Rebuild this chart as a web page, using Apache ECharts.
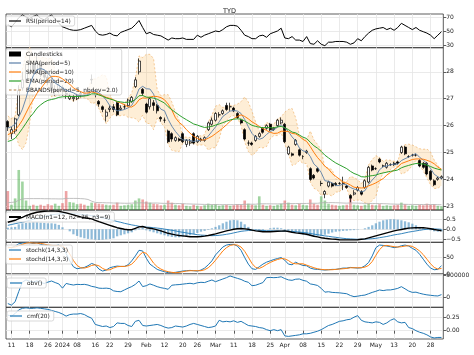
<!DOCTYPE html>
<html><head><meta charset="utf-8">
<script src="https://cdn.jsdelivr.net/npm/echarts/dist/echarts.min.js"></script>
<style>html,body{margin:0;padding:0;background:#fff}#c{width:474px;height:355px}</style>
</head><body><div id="c"></div>
<script>
const dates = ['2023-12-08','2023-12-11','2023-12-12','2023-12-13','2023-12-14','2023-12-15','2023-12-18','2023-12-19','2023-12-20','2023-12-21','2023-12-22','2023-12-26','2023-12-27','2023-12-28','2023-12-29',
'2024-01-02','2024-01-03','2024-01-04','2024-01-05','2024-01-08','2024-01-09','2024-01-10','2024-01-11','2024-01-12','2024-01-16','2024-01-17','2024-01-18','2024-01-19','2024-01-22','2024-01-23','2024-01-24','2024-01-25','2024-01-26','2024-01-29','2024-01-30','2024-01-31',
'2024-02-01','2024-02-02','2024-02-05','2024-02-06','2024-02-07','2024-02-08','2024-02-09','2024-02-12','2024-02-13','2024-02-14','2024-02-15','2024-02-16','2024-02-20','2024-02-21','2024-02-22','2024-02-23','2024-02-26','2024-02-27','2024-02-28','2024-02-29',
'2024-03-01','2024-03-04','2024-03-05','2024-03-06','2024-03-07','2024-03-08','2024-03-11','2024-03-12','2024-03-13','2024-03-14','2024-03-15','2024-03-18','2024-03-19','2024-03-20','2024-03-21','2024-03-22','2024-03-25','2024-03-26','2024-03-27','2024-03-28',
'2024-04-01','2024-04-02','2024-04-03','2024-04-04','2024-04-05','2024-04-08','2024-04-09','2024-04-10','2024-04-11','2024-04-12','2024-04-15','2024-04-16','2024-04-17','2024-04-18','2024-04-19','2024-04-22','2024-04-23','2024-04-24','2024-04-25','2024-04-26','2024-04-29','2024-04-30',
'2024-05-01','2024-05-02','2024-05-03','2024-05-06','2024-05-07','2024-05-08','2024-05-09','2024-05-10','2024-05-13','2024-05-14','2024-05-15','2024-05-16','2024-05-17','2024-05-20','2024-05-21','2024-05-22','2024-05-23','2024-05-24','2024-05-28','2024-05-29','2024-05-30','2024-05-31'];

const tickDates = ['2023-12-11','2023-12-18','2023-12-26','2024-01-02','2024-01-08','2024-01-16','2024-01-22','2024-01-29','2024-02-05','2024-02-12','2024-02-20','2024-02-26','2024-03-04','2024-03-11','2024-03-18','2024-03-25','2024-04-01','2024-04-08','2024-04-15','2024-04-22','2024-04-29','2024-05-06','2024-05-13','2024-05-20','2024-05-28'];
const tickText = ['11','18','26','2024','08','16','22','29','Feb','12','20','26','Mar','11','18','25','Apr','08','15','22','29','May','13','20','28'];

const open = [26.15,25.7,25.8,26.4,27.4,27.7,28.0,28.3,28.0,28.3,
27.9,27.8,27.6,27.3,27.3,27.4,27.2,27.0,27.0,27.0,
27.2,27.2,27.2,27.7,27.25,26.9,26.7,26.35,26.6,26.7,
26.85,26.6,26.7,26.75,26.9,27.45,28.0,27.35,26.8,26.7,
26.85,26.75,26.3,26.2,25.8,25.7,25.45,25.5,25.7,25.3,
25.35,25.7,25.4,25.5,25.45,25.85,26.05,26.2,26.4,26.45,
26.75,26.7,26.65,26.45,26.2,25.85,25.35,25.35,25.45,25.6,
25.9,25.9,26.05,25.85,26.0,26.1,26.05,24.95,24.95,25.3,
25.1,24.85,25.0,24.4,24.15,24.4,23.85,23.45,23.75,23.85,
23.85,23.85,23.85,23.75,23.4,23.45,23.6,23.55,23.7,23.9,
24.5,24.4,24.75,24.5,24.45,24.55,24.6,24.65,25.0,25.2,
24.85,24.9,24.9,24.7,24.6,24.6,24.3,23.95,24.0,24.05];
const close = [25.95,25.85,26.25,27.3,27.7,28.0,28.3,28.0,28.4,27.9,
27.8,27.6,27.3,27.3,27.5,27.3,27.15,27.1,27.05,27.1,
27.15,27.15,27.3,27.72,27.15,26.8,26.6,26.5,26.65,26.6,
26.4,26.65,26.7,26.95,27.05,27.7,28.4,27.2,26.5,27.0,
26.75,26.55,26.25,26.2,25.4,25.5,25.55,25.45,25.4,25.45,
25.4,25.35,25.6,25.45,25.55,26.1,26.2,26.45,26.4,26.55,
26.6,26.7,26.55,26.3,26.1,25.5,25.35,25.3,25.6,25.7,
25.75,26.0,25.85,25.9,26.2,26.2,25.4,25.2,24.9,25.45,
24.9,24.85,25.05,24.0,24.05,24.3,23.85,23.55,23.9,23.75,
23.8,23.85,23.85,23.7,23.3,23.5,23.7,23.45,23.95,24.45,
24.35,24.4,24.65,24.5,24.6,24.55,24.55,24.6,25.2,24.95,
24.85,24.9,24.9,24.5,24.45,24.2,24.0,23.8,24.05,24.1];
const high = [26.2,25.95,26.3,27.5,28.0,28.3,28.6,28.4,28.6,28.4,
28.1,27.9,27.7,27.5,27.6,27.5,27.3,27.2,27.15,27.2,
27.25,27.3,27.4,27.9,27.35,26.95,26.75,26.6,26.75,26.8,
26.9,26.75,26.8,27.0,27.1,27.8,28.5,27.4,26.85,27.05,
26.95,26.8,26.35,26.3,25.85,25.75,25.6,25.55,25.75,25.5,
25.5,25.75,25.65,25.55,25.6,26.15,26.3,26.5,26.5,26.6,
26.85,26.85,26.7,26.5,26.25,25.9,25.45,25.4,25.65,25.75,
25.95,26.05,26.1,25.95,26.25,26.3,26.1,25.25,25.0,25.5,
25.15,24.9,25.1,24.45,24.2,24.45,23.95,23.6,23.95,23.9,
23.9,23.9,24.1,23.8,23.45,23.6,23.75,23.6,24.0,24.5,
24.55,24.45,24.8,24.55,24.65,24.6,24.65,24.7,25.25,25.25,
24.9,24.95,24.95,24.75,24.65,24.65,24.35,24.0,24.1,24.15];
const low = [25.8,25.5,25.7,26.35,27.3,27.6,27.9,27.9,27.9,27.8,
27.6,27.5,27.2,27.1,27.2,27.1,27.0,26.95,26.9,26.95,
27.05,27.1,27.1,27.55,27.05,26.7,26.5,26.15,26.5,26.5,
26.35,26.55,26.6,26.7,26.85,27.4,27.9,27.1,26.45,26.6,
26.55,26.45,26.15,26.1,25.35,25.4,25.4,25.4,25.35,25.2,
25.25,25.3,25.35,25.4,25.4,25.8,26.0,26.15,26.3,26.4,
26.55,26.55,26.5,26.25,26.05,25.45,25.25,25.25,25.4,25.55,
25.7,25.85,25.8,25.8,25.95,26.05,25.35,24.9,24.85,25.25,
24.85,24.75,24.95,23.95,24.0,24.25,23.75,23.3,23.7,23.7,
23.75,23.8,23.6,23.65,23.15,23.4,23.55,23.4,23.65,23.85,
24.3,24.35,24.6,24.45,24.4,24.5,24.5,24.55,24.95,24.9,
24.8,24.85,24.85,24.45,24.4,24.15,23.95,23.75,23.95,24.0];
const volume = [180,50,110,380,270,90,40,50,40,50,
40,55,45,60,40,65,180,75,70,55,
60,50,40,70,65,60,55,50,45,50,
70,40,45,50,55,90,110,100,80,70,
60,55,45,50,90,70,50,45,60,40,
35,50,40,35,45,60,50,55,40,45,
50,40,45,55,50,90,60,50,45,130,
50,40,45,40,50,60,90,70,50,45,
60,50,45,100,60,50,130,90,60,50,
45,40,45,50,110,50,45,40,50,60,
50,45,55,40,45,40,45,50,70,55,
40,45,40,50,45,60,50,55,40,35];
const volMa = [70,72,76,92,105,108,108,108,108,108,
107,107,106,106,105,105,110,110,110,110,
108,106,100,84,72,70,70,68,68,66,
66,65,64,64,65,67,68,68,66,65,
66,66,64,63,63,62,62,61,60,58,
57,56,55,54,53,53,52,52,51,51,
51,51,51,52,52,54,55,55,55,59,
59,59,58,58,58,58,60,61,61,61,
62,62,62,64,64,64,68,70,70,70,
69,68,66,65,67,66,65,64,63,62,
62,61,61,60,59,57,56,55,55,54,
53,53,52,52,52,52,52,52,51,50];
const sma5 = [25.91,25.96,26.05,26.31,26.61,27.02,27.51,27.86,28.08,28.12,
28.08,27.94,27.80,27.58,27.50,27.40,27.31,27.27,27.22,27.14,
27.11,27.11,27.15,27.28,27.29,27.22,27.11,26.95,26.74,26.63,
26.55,26.56,26.60,26.66,26.75,27.01,27.36,27.46,27.37,27.36,
27.17,26.80,26.61,26.55,26.23,25.98,25.78,25.62,25.46,25.47,
25.45,25.41,25.44,25.45,25.47,25.61,25.78,25.95,26.14,26.34,
26.44,26.54,26.56,26.54,26.45,26.23,25.96,25.71,25.57,25.49,
25.54,25.67,25.78,25.84,25.94,26.03,25.91,25.78,25.58,25.43,
25.17,25.06,25.03,24.85,24.57,24.45,24.25,23.95,23.93,23.87,
23.77,23.77,23.83,23.79,23.70,23.64,23.61,23.53,23.58,23.81,
23.98,24.12,24.36,24.47,24.50,24.54,24.57,24.56,24.70,24.77,
24.83,24.90,24.96,24.82,24.72,24.59,24.41,24.19,24.10,24.03];
const sma10 = [25.66,25.73,25.83,26.00,26.20,26.47,26.74,26.96,27.20,27.37,
27.55,27.73,27.83,27.83,27.81,27.74,27.63,27.54,27.40,27.32,
27.26,27.21,27.21,27.25,27.22,27.17,27.11,27.05,27.01,26.96,
26.89,26.84,26.78,26.70,26.69,26.78,26.96,27.03,27.02,27.06,
27.09,27.08,27.04,26.96,26.80,26.58,26.29,26.12,26.01,25.85,
25.72,25.60,25.53,25.46,25.47,25.53,25.60,25.70,25.80,25.91,
26.03,26.16,26.26,26.34,26.40,26.34,26.25,26.14,26.06,25.97,
25.89,25.82,25.75,25.71,25.72,25.79,25.79,25.78,25.71,25.69,
25.60,25.49,25.41,25.22,25.00,24.81,24.66,24.49,24.39,24.22,
24.11,24.01,23.89,23.86,23.79,23.71,23.69,23.68,23.69,23.76,
23.81,23.87,23.95,24.03,24.16,24.26,24.35,24.46,24.59,24.64,
24.69,24.74,24.76,24.76,24.75,24.71,24.66,24.58,24.46,24.38];
const ema20 = [25.41,25.45,25.53,25.70,25.89,26.09,26.30,26.46,26.65,26.77,
26.87,26.94,26.97,27.00,27.05,27.07,27.08,27.08,27.08,27.08,
27.09,27.10,27.12,27.18,27.18,27.14,27.09,27.03,26.99,26.95,
26.90,26.88,26.86,26.87,26.89,26.97,27.11,27.12,27.06,27.05,
27.02,26.98,26.91,26.84,26.70,26.59,26.49,26.39,26.30,26.22,
26.14,26.06,26.02,25.97,25.93,25.95,25.97,26.02,26.06,26.11,
26.16,26.21,26.24,26.25,26.24,26.17,26.09,26.01,25.97,25.94,
25.92,25.93,25.92,25.92,25.95,25.97,25.92,25.85,25.76,25.73,
25.65,25.57,25.52,25.38,25.25,25.16,25.04,24.90,24.80,24.70,
24.61,24.54,24.47,24.40,24.30,24.22,24.17,24.10,24.09,24.12,
24.14,24.16,24.21,24.24,24.27,24.30,24.32,24.35,24.43,24.48,
24.52,24.56,24.59,24.58,24.57,24.53,24.48,24.42,24.38,24.35];
const bbUpper = [26.36,26.26,26.35,27.34,28.11,28.68,28.93,28.54,28.57,28.51,
28.54,28.47,28.53,28.07,27.88,27.65,27.53,27.55,27.54,27.31,
27.19,27.19,27.32,27.74,27.73,27.81,27.89,27.83,27.20,26.83,
26.73,26.75,26.81,27.01,27.21,27.76,28.59,28.53,28.65,28.65,
28.49,27.33,27.11,27.15,27.15,26.88,26.51,26.21,25.58,25.57,
25.56,25.49,25.61,25.62,25.66,26.13,26.39,26.72,26.78,26.67,
26.72,26.75,26.75,26.80,26.89,27.07,26.88,26.53,26.14,25.79,
25.91,26.12,26.05,26.05,26.25,26.32,26.50,26.60,26.64,26.29,
25.64,25.52,25.47,25.80,25.47,25.30,25.10,24.44,24.42,24.36,
24.01,24.01,23.93,23.91,24.11,24.07,23.99,23.84,24.03,24.54,
24.74,24.88,24.82,24.67,24.73,24.71,24.67,24.64,25.20,25.29,
25.31,25.28,25.21,25.14,25.12,25.13,25.02,24.72,24.53,24.29];
const bbLower = [25.46,25.66,25.75,25.28,25.11,25.36,26.09,27.18,27.59,27.73,
27.62,27.41,27.07,27.09,27.12,27.15,27.09,26.99,26.90,26.97,
27.03,27.03,26.98,26.82,26.85,26.63,26.33,26.07,26.28,26.43,
26.37,26.37,26.39,26.31,26.29,26.26,26.13,26.39,26.09,26.07,
25.85,26.27,26.11,25.95,25.31,25.08,25.05,25.03,25.34,25.37,
25.34,25.33,25.27,25.28,25.28,25.09,25.17,25.18,25.50,26.01,
26.16,26.33,26.37,26.28,26.01,25.39,25.04,24.89,25.00,25.19,
25.17,25.22,25.51,25.63,25.63,25.74,25.32,24.96,24.52,24.57,
24.70,24.60,24.59,23.90,23.67,23.60,23.40,23.46,23.44,23.38,
23.53,23.53,23.73,23.67,23.29,23.21,23.23,23.22,23.13,23.08,
23.22,23.36,23.90,24.27,24.27,24.37,24.47,24.48,24.20,24.25,
24.35,24.52,24.71,24.50,24.32,24.05,23.80,23.66,23.67,23.77];
const rsi = [60,57,63,70,74,71,69,72,74,69,
67,71,74,68,62,57,55,53,52,52,
53,55,57,59,51,46,45,46,48,45,
44,49,51,53,55,60,66,56,47,49,
46,45,44,41,38,41,40,40,41,39,
39,39,45,42,45,47,49,51,50,53,
57,59,59,58,52,45,43,40,40,44,
45,42,47,49,51,55,41,40,43,38,
38,36,43,33,32,37,32,30,35,35,
36,36,36,35,32,34,40,37,43,48,
52,54,55,56,53,55,52,56,62,59,
56,53,56,52,50,48,45,40,45,50];
const macd = [0.35,0.40,0.45,0.53,0.60,0.68,0.75,0.80,0.85,0.88,
0.90,0.91,0.92,0.91,0.90,0.86,0.82,0.77,0.72,0.67,
0.62,0.58,0.55,0.52,0.45,0.38,0.32,0.26,0.20,0.14,
0.08,0.04,0.00,-0.02,-0.02,0.05,0.12,0.14,0.08,0.05,
0.02,-0.03,-0.08,-0.14,-0.20,-0.24,-0.28,-0.31,-0.33,-0.35,
-0.37,-0.37,-0.37,-0.36,-0.34,-0.31,-0.27,-0.23,-0.18,-0.13,
-0.08,-0.04,0.00,0.03,0.04,0.02,0.00,-0.04,-0.08,-0.10,
-0.12,-0.12,-0.12,-0.11,-0.10,-0.09,-0.08,-0.11,-0.15,-0.18,
-0.20,-0.22,-0.25,-0.30,-0.35,-0.38,-0.42,-0.45,-0.47,-0.49,
-0.50,-0.52,-0.53,-0.53,-0.53,-0.53,-0.52,-0.50,-0.48,-0.43,
-0.38,-0.33,-0.28,-0.23,-0.18,-0.13,-0.08,-0.04,-0.01,0.03,
0.06,0.07,0.08,0.08,0.08,0.06,0.03,-0.01,-0.04,-0.07];
const macdSignal = [0.20,0.24,0.28,0.32,0.35,0.40,0.45,0.50,0.55,0.59,
0.63,0.68,0.72,0.75,0.77,0.79,0.80,0.79,0.78,0.77,
0.75,0.73,0.71,0.68,0.65,0.61,0.57,0.53,0.48,0.44,
0.39,0.35,0.30,0.26,0.22,0.19,0.15,0.13,0.11,0.10,
0.08,0.06,0.04,0.01,-0.02,-0.05,-0.08,-0.12,-0.15,-0.18,
-0.21,-0.24,-0.27,-0.29,-0.30,-0.31,-0.32,-0.31,-0.30,-0.28,
-0.25,-0.22,-0.18,-0.14,-0.10,-0.08,-0.06,-0.05,-0.04,-0.05,
-0.06,-0.07,-0.07,-0.08,-0.08,-0.09,-0.09,-0.10,-0.11,-0.12,
-0.14,-0.16,-0.18,-0.21,-0.24,-0.27,-0.30,-0.33,-0.35,-0.38,
-0.40,-0.43,-0.45,-0.47,-0.48,-0.49,-0.50,-0.50,-0.49,-0.48,
-0.47,-0.45,-0.42,-0.39,-0.36,-0.32,-0.28,-0.25,-0.22,-0.18,
-0.14,-0.11,-0.08,-0.05,-0.02,0.00,0.02,0.02,0.01,0.00];
const macdHist = [0.08,0.10,0.12,0.25,0.30,0.32,0.33,0.35,0.35,0.33,
0.32,0.30,0.30,0.28,0.22,0.10,0.00,-0.10,-0.25,-0.33,
-0.40,-0.45,-0.48,-0.50,-0.52,-0.53,-0.52,-0.50,-0.48,-0.45,
-0.35,-0.30,-0.25,-0.20,-0.15,-0.05,0.05,0.08,-0.05,-0.10,
-0.15,-0.20,-0.25,-0.30,-0.35,-0.38,-0.40,-0.40,-0.38,-0.35,
-0.30,-0.25,-0.18,-0.12,-0.08,-0.03,0.05,0.12,0.20,0.30,
0.38,0.45,0.47,0.45,0.38,0.25,0.12,0.02,-0.03,-0.05,
-0.05,0.00,0.05,0.08,0.08,0.05,-0.08,-0.12,-0.16,-0.20,
-0.22,-0.26,-0.30,-0.34,-0.36,-0.35,-0.32,-0.27,-0.22,-0.16,
-0.12,-0.10,-0.08,-0.07,-0.05,-0.04,-0.02,0.00,0.05,0.12,
0.20,0.30,0.38,0.45,0.48,0.50,0.50,0.48,0.45,0.40,
0.35,0.28,0.20,0.12,0.06,0.02,-0.05,-0.10,-0.12,-0.10];
const stochK = [82,80,85,92,94,95,95,93,95,90,
88,87,85,86,88,80,62,40,22,16,
18,20,25,32,28,15,9,12,19,22,
24,23,23,28,40,55,72,70,48,30,
22,14,10,7,4,4,5,7,9,10,
11,10,9,12,18,28,40,58,70,82,
88,90,90,85,72,50,30,16,14,22,
30,36,40,44,47,50,42,30,28,36,
30,26,25,18,15,14,13,12,13,14,
14,16,18,18,20,19,18,19,25,35,
55,80,88,87,85,83,80,82,86,88,
85,78,72,60,45,30,18,13,14,25];
const stochD = [80,81,82,86,90,94,95,94,94,93,
91,88,87,86,86,85,77,61,41,26,
19,18,21,26,28,25,17,12,13,18,
22,23,23,25,30,41,56,66,63,49,
33,22,15,10,7,5,4,5,7,9,
10,10,10,10,13,19,29,42,56,70,
80,87,89,88,82,69,51,32,20,17,
22,29,35,40,44,47,46,41,33,31,
31,31,27,23,19,16,14,13,13,13,
14,15,16,17,19,19,19,19,21,26,
38,57,74,85,87,85,83,82,83,85,
86,84,78,70,59,45,31,20,15,17];
const obv = [-140000,-175000,-100000,130000,340000,390000,360000,340000,370000,330000,
310000,340000,365000,330000,300000,205000,310000,290000,275000,290000,
285000,290000,275000,245000,230000,205000,200000,205000,195000,145000,
130000,125000,165000,205000,240000,290000,365000,240000,260000,300000,
270000,238000,215000,200000,180000,270000,280000,285000,295000,305000,
314000,300000,325000,336000,330000,360000,388000,350000,380000,410000,
440000,478000,450000,425000,400000,360000,336000,260000,270000,300000,
330000,440000,445000,440000,445000,460000,420000,390000,380000,405000,
410000,380000,360000,300000,285000,265000,200000,115000,125000,110000,
105000,100000,90000,80000,40000,15000,25000,40000,50000,80000,
110000,135000,164000,150000,164000,165000,180000,200000,238000,190000,
140000,110000,115000,90000,70000,55000,45000,35000,30000,60000];
const cmf = [0.30,0.28,0.33,0.40,0.43,0.44,0.43,0.43,0.44,0.43,
0.42,0.41,0.39,0.37,0.35,0.32,0.28,0.31,0.32,0.32,
0.33,0.31,0.27,0.24,0.12,0.10,0.08,0.09,0.06,0.08,
0.15,0.14,0.14,0.10,0.08,0.18,0.20,0.10,0.09,0.10,
0.11,0.12,0.10,0.07,0.05,0.06,0.09,0.08,0.07,0.09,
0.12,0.14,0.12,0.10,0.08,0.06,0.07,0.09,0.20,0.17,
0.18,0.17,0.19,0.16,0.18,0.14,0.10,0.09,0.08,0.06,
0.05,0.02,0.00,0.02,0.00,0.02,-0.10,-0.11,-0.10,-0.09,
-0.08,-0.06,-0.06,-0.05,-0.03,-0.01,0.02,0.06,0.10,0.12,
0.15,0.18,0.19,0.21,0.22,0.26,0.29,0.20,0.17,0.16,
0.15,0.17,0.16,0.12,0.15,0.20,0.23,0.17,0.15,0.16,
0.06,0.04,0.00,-0.03,-0.05,-0.08,-0.12,-0.14,-0.13,-0.13];

const FONT = 'DejaVu Sans';
const tickMap = new Map(tickDates.map((d, k) => [dates.indexOf(d), tickText[k]]));
const isTick = (i) => tickMap.has(i);
const panels = [[14, 33.7], [47.7, 162.3], [210, 32.3], [242.3, 31.7], [274, 33.3], [307.3, 31.7]];
const grid = panels.map(p => ({left: 6, right: 30.7, top: p[0], height: p[1], show: true,
  borderColor: '#333', borderWidth: 0.8, backgroundColor: 'rgba(0,0,0,0)', outerBoundsMode: 'none', containLabel: false}));
const gridLine = {color: '#e4e4e4', width: 0.8};
const xAxis = panels.map((p, k) => ({
  type: 'category', gridIndex: k, data: dates, boundaryGap: true,
  axisLine: {show: false},
  axisTick: {show: k === 5, interval: isTick, alignWithLabel: true, length: 3, lineStyle: {color: '#333', width: 0.8}},
  axisLabel: {show: k === 5, interval: isTick, formatter: (v, i) => tickMap.get(i) || '', fontSize: 6, color: '#222', fontFamily: FONT, margin: 3},
  splitLine: {show: true, interval: isTick, alignWithLabel: true, lineStyle: gridLine}
}));
function yax(g, min, max, vals, fmt) {
  return {type: 'value', gridIndex: g, position: 'right', min: min, max: max,
    axisLine: {show: false},
    axisTick: {show: true, customValues: vals, length: 3, lineStyle: {color: '#333', width: 0.8}},
    axisLabel: {customValues: vals, formatter: fmt, fontSize: 6, color: '#222', fontFamily: FONT, margin: 3},
    splitLine: {show: true, lineStyle: gridLine}};
}
const yAxis = [
  yax(0, 27.1, 75.3, [30, 50, 70], v => String(v)),
  yax(1, 22.862, 28.896, [23, 24, 25, 26, 27, 28], v => String(v)),
  {type: 'value', gridIndex: 1, min: 0, max: 1540, show: false, splitLine: {show: false}},
  yax(2, -0.65, 0.965, [-0.5, 0, 0.5], v => (v < 0 ? '\u2212' : '') + Math.abs(v).toFixed(1)),
  yax(3, 0, 96.4, [0, 50], v => String(v)),
  yax(4, -224000, 522000, [0, 500000], v => String(v)),
  yax(5, -0.16, 0.45, [0, 0.25], v => v.toFixed(2))
];
const upC = 'rgba(44,160,44,0.45)', dnC = 'rgba(214,39,40,0.42)';
const bbEdge = 'rgba(235,160,70,0.75)';
const line = (name, xi, yi, data, color, width, z) => ({name, type: 'line', xAxisIndex: xi, yAxisIndex: yi, data,
  symbol: 'none', lineStyle: {color, width}, itemStyle: {color}, z: z || 3, silent: true});
const series = [
  line('RSI(period=14)', 0, 0, rsi, '#000', 1),
  {name: 'bbl', type: 'line', xAxisIndex: 1, yAxisIndex: 1, data: bbLower, stack: 'bb', symbol: 'none',
    lineStyle: {color: bbEdge, width: 0.7, type: [2, 2]}, itemStyle: {color: bbEdge}, z: 1, silent: true},
  {name: 'BBANDS(period=5, nbdev=2.0)', type: 'line', xAxisIndex: 1, yAxisIndex: 1,
    data: bbUpper.map((u, i) => +(u - bbLower[i]).toFixed(2)), stack: 'bb', symbol: 'none',
    areaStyle: {color: 'rgba(253,190,100,0.38)'}, lineStyle: {color: bbEdge, width: 0.7, type: [2, 2]},
    itemStyle: {color: 'rgba(205,170,135,1)'}, z: 1, silent: true},
  {name: 'vol', type: 'bar', xAxisIndex: 1, yAxisIndex: 2, barWidth: '72%', z: 1, silent: true,
    data: volume.map((v, i) => ({value: v, itemStyle: {color: close[i] >= open[i] ? upC : dnC}}))},
  line('volma', 1, 2, volMa, '#b0b0b0', 0.8, 1),
  {name: 'Candlesticks', type: 'candlestick', xAxisIndex: 1, yAxisIndex: 1, barWidth: '68%', z: 3, silent: true,
    data: dates.map((d, i) => [open[i], close[i], low[i], high[i]]),
    itemStyle: {color: '#fff', color0: '#000', borderColor: '#000', borderColor0: '#000', borderWidth: 0.7}},
  line('SMA(period=5)', 1, 1, sma5, '#5a7fa8', 0.9, 4),
  line('SMA(period=10)', 1, 1, sma10, '#ff7f0e', 1, 4),
  line('EMA(period=20)', 1, 1, ema20, '#2ca02c', 1, 4),
  {name: 'hist', type: 'bar', xAxisIndex: 2, yAxisIndex: 3, data: macdHist, barWidth: '62%', z: 1, silent: true,
    itemStyle: {color: 'rgba(31,119,180,0.5)'}},
  line('MACD(n1=12, n2=26, n3=9)', 2, 3, macd, '#000', 1.4, 4),
  line('signal', 2, 3, macdSignal, '#1f77b4', 0.9, 3),
  line('stochk(14,3,3)', 3, 4, stochK, '#1f77b4', 1),
  line('stochd(14,3,3)', 3, 4, stochD, '#ff7f0e', 1),
  line('obv()', 4, 5, obv, '#1f77b4', 1),
  line('cmf(20)', 5, 6, cmf, '#1f77b4', 1)
];
const LINE_ICON = 'path://M0,0L24,0L24,2.4L0,2.4Z';
const THICK_ICON = 'path://M0,0L24,0L24,4L0,4Z';
const DASH_ICON = 'path://M0,0L5,0L5,2.4L0,2.4ZM9,0L14,0L14,2.4L9,2.4ZM18,0L23,0L23,2.4L18,2.4Z';
const li = (name, icon) => ({name, icon: icon || LINE_ICON});
const lg = (data, left, top) => ({data, left, top, orient: 'vertical', selectedMode: false,
  itemWidth: 12, itemHeight: 5, itemGap: 3, padding: [2, 4, 2, 3], symbolKeepAspect: true,
  backgroundColor: 'rgba(255,255,255,0.8)', borderColor: '#cfcfcf', borderWidth: 0.8, borderRadius: 2,
  textStyle: {fontSize: 5.8, color: '#222', fontFamily: FONT}});
const legend = [
  lg([li('RSI(period=14)')], 6, 16),
  lg([{name: 'Candlesticks', icon: 'rect', itemStyle: {color: '#000', borderWidth: 0}}, li('SMA(period=5)'), li('SMA(period=10)'), li('EMA(period=20)'), li('BBANDS(period=5, nbdev=2.0)', DASH_ICON)], 6, 49),
  lg([li('MACD(n1=12, n2=26, n3=9)', THICK_ICON)], 6, 212),
  lg([li('stochk(14,3,3)'), li('stochd(14,3,3)')], 6, 245),
  lg([li('obv()')], 7, 278),
  lg([li('cmf(20)')], 7, 311)
];
const chart = echarts.init(document.getElementById('c'), null, {renderer: 'canvas'});
chart.setOption({
  animation: false,
  backgroundColor: '#fff',
  title: {text: 'TYD', left: 224.5, top: 3, textAlign: 'center', textStyle: {fontSize: 6.5, fontWeight: 'normal', color: '#222', fontFamily: FONT}},
  grid, xAxis, yAxis, legend, series
});
</script></body></html>
